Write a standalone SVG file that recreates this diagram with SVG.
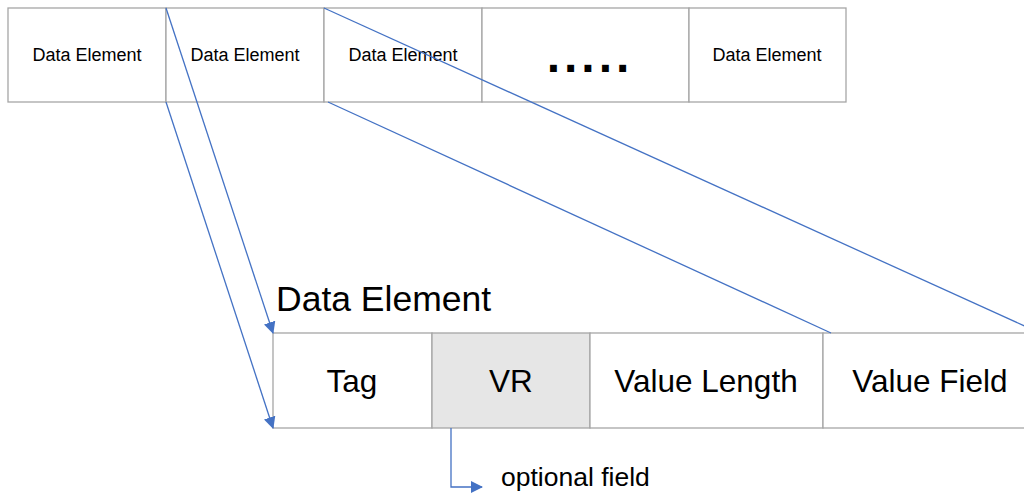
<svg xmlns="http://www.w3.org/2000/svg" width="1024" height="493" viewBox="0 0 1024 493">
<defs>
<style>
.cell{fill:#fff;stroke:#a6a6a6;stroke-width:1.3}
.vr{fill:#e6e6e6;stroke:#a6a6a6;stroke-width:1.3}
.s{font-family:"Liberation Sans",Arial,sans-serif;font-size:18px;fill:#000;text-anchor:middle}
.b{font-family:"Liberation Sans",Arial,sans-serif;font-size:31.5px;fill:#000;text-anchor:middle}
.ln{stroke:#4472c4;stroke-width:1.3;fill:none}
</style>
<marker id="ah" markerWidth="12" markerHeight="12" refX="11" refY="6" orient="auto" markerUnits="userSpaceOnUse">
<path d="M0,0 L12,6 L0,12 Z" fill="#4472c4"/>
</marker>
</defs>
<rect width="1024" height="493" fill="#fff"/>
<g id="top-row">
<g id="de1"><rect class="cell" x="8" y="8" width="158" height="94"/><text class="s" x="87" y="61">Data Element</text></g>
<g id="de2"><rect class="cell" x="166" y="8" width="158" height="94"/><text class="s" x="245" y="61">Data Element</text></g>
<g id="de3"><rect class="cell" x="324" y="8" width="158" height="94"/><text class="s" x="403" y="61">Data Element</text></g>
<g id="dots"><rect class="cell" x="482" y="8" width="207" height="94"/><text x="590" y="72" font-family="Liberation Sans,Arial,sans-serif" font-weight="bold" font-size="48" letter-spacing="4" text-anchor="middle" fill="#000">.....</text></g>
<g id="de5"><rect class="cell" x="689" y="8" width="157" height="94"/><text class="s" x="767" y="61">Data Element</text></g>
</g>
<g id="title"><text x="276" y="311" font-family="Liberation Sans,Arial,sans-serif" font-size="35.5" fill="#000">Data Element</text></g>
<g id="bottom-row">
<g id="tag"><rect class="cell" x="273" y="333" width="159" height="95"/><text class="b" x="352" y="392">Tag</text></g>
<g id="vr"><rect class="vr" x="432" y="333" width="158" height="95"/><text class="b" x="511" y="392">VR</text></g>
<g id="vl"><rect class="cell" x="590" y="333" width="233" height="95"/><text class="b" x="706" y="392">Value Length</text></g>
<g id="vf"><rect class="cell" x="823" y="333" width="210" height="95"/><text class="b" x="930" y="392">Value Field</text></g>
</g>
<g id="optional"><text x="501" y="486" font-family="Liberation Sans,Arial,sans-serif" font-size="26.5" fill="#000">optional field</text></g>
<g id="connectors">
<line class="ln" x1="166" y1="8" x2="273" y2="333" marker-end="url(#ah)"/>
<line class="ln" x1="166" y1="102" x2="273" y2="428" marker-end="url(#ah)"/>
<line class="ln" x1="324" y1="8" x2="1040" y2="333"/>
<line class="ln" x1="328" y1="102" x2="831" y2="333"/>
<polyline class="ln" points="451,428 451,487 482,487" marker-end="url(#ah)"/>
</g>
</svg>
